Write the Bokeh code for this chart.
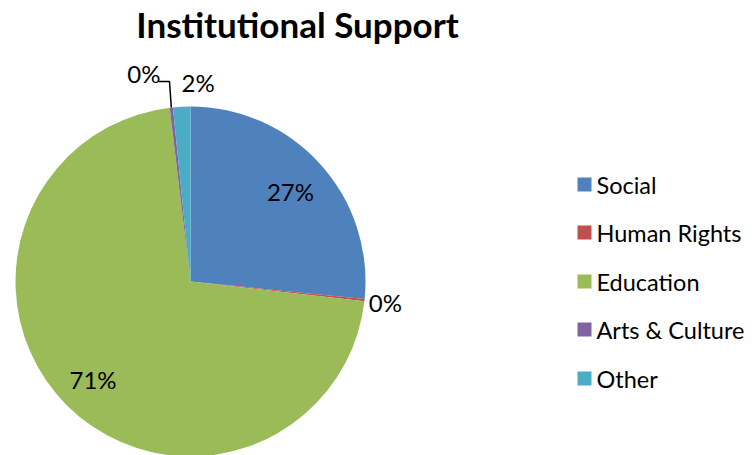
import math
from bokeh.plotting import figure
from bokeh.models import Range1d, ColumnDataSource
from bokeh.core.properties import value
from bokeh.embed import file_html
from bokeh.resources import INLINE

# ---- data ----
categories = ["Social", "Human Rights", "Education", "Arts & Culture", "Other"]
shares = [26.6, 0.2, 71.3, 0.3, 1.6]
colors = ["#4F81BD", "#C0504D", "#9BBB59", "#8064A2", "#4BACC6"]
title_text = "Institutional Support"

W, H = 752, 455
FONT = "Lato"

p = figure(width=W, height=H, output_backend="svg", toolbar_location=None,
           x_range=Range1d(0, W), y_range=Range1d(455 - H, 455),
           min_border=0)
p.axis.visible = False
p.grid.visible = False
p.outline_line_color = None
p.background_fill_color = "white"

# pie geometry (page pixel units, y measured upward from page bottom)
cx, cy, R = 190, 455 - 281, 175

total = sum(shares)
starts, ends, mids = [], [], []
cum = 0.0
for s in shares:
    a0 = math.pi / 2 - 2 * math.pi * (cum + s) / total
    a1 = math.pi / 2 - 2 * math.pi * cum / total
    starts.append(a0)
    ends.append(a1)
    mids.append((a0 + a1) / 2)
    cum += s

src = ColumnDataSource(dict(start=starts, end=ends, color=colors, cat=categories))
p.wedge(x=cx, y=cy, radius=R, start_angle="start", end_angle="end",
        color="color", line_color=None, source=src)

# percentage labels
labels = [f"{round(s / total * 100)}%" for s in shares]
# label placement: (radius factor, angle in degrees or None for slice middle)
label_pos = [(0.77, None), (1.12, None), (0.79, None), (1.22, 102.6), (1.14, 87.8)]
lx, ly = [], []
for i in range(len(labels)):
    rf, ang = label_pos[i]
    a = mids[i] if ang is None else math.radians(ang)
    lx.append(cx + R * rf * math.cos(a))
    ly.append(cy + R * rf * math.sin(a))
p.text(x=lx, y=ly, text=labels, text_font=value(FONT), text_font_size="24px",
       text_align="center", text_baseline="middle", text_color="#000000")

# leader line for Arts & Culture
ex = cx + R * math.cos(mids[3])
ey = cy + R * math.sin(mids[3])
p.line(x=[158, 169, ex], y=[455 - 81, 455 - 81, ey], line_color="black", line_width=1.5)

# legend
leg_y = [455 - 184, 455 - 232, 455 - 281, 455 - 329, 455 - 378]
p.rect(x=[584] * 5, y=leg_y, width=14, height=14, fill_color=colors, line_color=None)
p.text(x=[596] * 5, y=leg_y, text=categories, text_font=value(FONT),
       text_font_size="23.5px", text_align="left", text_baseline="middle",
       text_color="#000000")

# title
p.text(x=[297], y=[455 - 23], text=[title_text], text_font=value(FONT),
       text_font_size="35px", text_font_style="bold", text_align="center",
       text_baseline="middle", text_color="#000000")

open("out.html", "w").write(file_html(p, INLINE))
